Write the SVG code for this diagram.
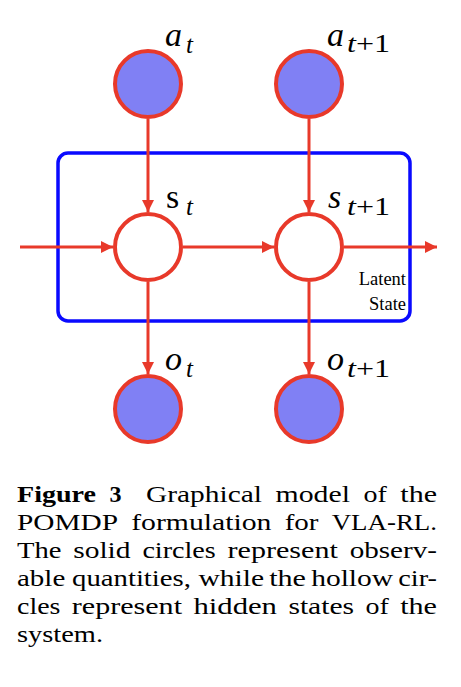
<svg xmlns="http://www.w3.org/2000/svg" width="461" height="687" viewBox="0 0 461 687" font-family="'Liberation Serif', 'DejaVu Serif', serif">
<style>
.obs{fill:#8080f4;stroke:#e8392a;stroke-width:4}
.hid{fill:#ffffff;stroke:#e8392a;stroke-width:4}
.edge{stroke:#e8392a;stroke-width:3;fill:none}
text{font-family:'Liberation Serif','DejaVu Serif',serif;fill:#000}
.math{font-style:italic}
.cap{font-size:24px}
</style>
<defs>
<marker id="arr" viewBox="0 0 12 12" refX="12" refY="6" markerWidth="12" markerHeight="12" markerUnits="userSpaceOnUse" orient="auto">
<path d="M0,0 L12,6 L0,12 Z" fill="#e8392a"/>
</marker>
</defs>
<rect fill="#ffffff" width="461" height="687"/>
<g id="latent-state">
<rect x="58" y="153" width="352" height="168" rx="10" fill="none" stroke="#0a0aff" stroke-width="3.5"/>
<text font-size="18.5" text-anchor="end" x="406" y="285">Latent</text>
<text font-size="18.5" text-anchor="end" x="406" y="310">State</text>
</g>
<g id="connectors">
<line class="edge" x1="20" y1="247" x2="113" y2="247" marker-end="url(#arr)"/>
<line class="edge" x1="183" y1="247" x2="274" y2="247" marker-end="url(#arr)"/>
<line class="edge" x1="344" y1="247" x2="437" y2="247" marker-end="url(#arr)"/>
<line class="edge" x1="148" y1="119" x2="148" y2="212" marker-end="url(#arr)"/>
<line class="edge" x1="309" y1="119" x2="309" y2="212" marker-end="url(#arr)"/>
<line class="edge" x1="148" y1="282" x2="148" y2="374" marker-end="url(#arr)"/>
<line class="edge" x1="309" y1="282" x2="309" y2="374" marker-end="url(#arr)"/>
</g>
<g id="a_t">
<circle class="obs" cx="148" cy="84" r="33"/>
<text class="math" font-size="34" x="165" y="46">a</text>
<text class="math" font-size="25" x="186" y="53">t</text>
</g>
<g id="a_t1">
<circle class="obs" cx="309" cy="84" r="33"/>
<text class="math" font-size="34" x="327" y="46">a</text>
<text class="math" font-size="25" x="347" y="52" textLength="43" lengthAdjust="spacingAndGlyphs">t<tspan font-style="normal">+1</tspan></text>
</g>
<g id="s_t">
<circle class="hid" cx="148" cy="247" r="33"/>
<text font-size="34" x="166" y="208">s</text>
<text class="math" font-size="25" x="186" y="215">t</text>
</g>
<g id="s_t1">
<circle class="hid" cx="309" cy="247" r="33"/>
<text class="math" font-size="34" x="328" y="208">s</text>
<text class="math" font-size="25" x="347" y="215" textLength="43" lengthAdjust="spacingAndGlyphs">t<tspan font-style="normal">+1</tspan></text>
</g>
<g id="o_t">
<circle class="obs" cx="148" cy="409" r="33"/>
<text class="math" font-size="34" x="165" y="370">o</text>
<text class="math" font-size="25" x="186" y="377">t</text>
</g>
<g id="o_t1">
<circle class="obs" cx="309" cy="409" r="33"/>
<text class="math" font-size="34" x="327" y="370">o</text>
<text class="math" font-size="25" x="347" y="377" textLength="43" lengthAdjust="spacingAndGlyphs">t<tspan font-style="normal">+1</tspan></text>
</g>
<g id="caption">
<text class="cap" font-weight="bold" x="17" y="502" textLength="79" lengthAdjust="spacingAndGlyphs">Figure</text>
<text class="cap" font-weight="bold" x="109.5" y="502">3</text>
<text class="cap" x="146" y="502" textLength="116" lengthAdjust="spacingAndGlyphs">Graphical</text>
<text class="cap" x="275.5" y="502" textLength="74.5" lengthAdjust="spacingAndGlyphs">model</text>
<text class="cap" x="363.5" y="502" textLength="23.3" lengthAdjust="spacingAndGlyphs">of</text>
<text class="cap" x="400.3" y="502" textLength="36.7" lengthAdjust="spacingAndGlyphs">the</text>
<text class="cap" x="17" y="530" textLength="101" lengthAdjust="spacingAndGlyphs">POMDP</text>
<text class="cap" x="131.2" y="530" textLength="140.3" lengthAdjust="spacingAndGlyphs">formulation</text>
<text class="cap" x="284.7" y="530" textLength="33.8" lengthAdjust="spacingAndGlyphs">for</text>
<text class="cap" x="331.7" y="530" textLength="105.3" lengthAdjust="spacingAndGlyphs">VLA-RL.</text>
<text class="cap" x="17" y="558" textLength="44.4" lengthAdjust="spacingAndGlyphs">The</text>
<text class="cap" x="73.2" y="558" textLength="57.3" lengthAdjust="spacingAndGlyphs">solid</text>
<text class="cap" x="142.4" y="558" textLength="73.4" lengthAdjust="spacingAndGlyphs">circles</text>
<text class="cap" x="227.6" y="558" textLength="110.2" lengthAdjust="spacingAndGlyphs">represent</text>
<text class="cap" x="349.7" y="558" textLength="87.3" lengthAdjust="spacingAndGlyphs">observ-</text>
<text class="cap" x="17" y="586" textLength="48.3" lengthAdjust="spacingAndGlyphs">able</text>
<text class="cap" x="72" y="586" textLength="119" lengthAdjust="spacingAndGlyphs">quantities,</text>
<text class="cap" x="198.4" y="586" textLength="65.6" lengthAdjust="spacingAndGlyphs">while</text>
<text class="cap" x="269.2" y="586" textLength="36.8" lengthAdjust="spacingAndGlyphs">the</text>
<text class="cap" x="311.2" y="586" textLength="81.9" lengthAdjust="spacingAndGlyphs">hollow</text>
<text class="cap" x="398.3" y="586" textLength="38.7" lengthAdjust="spacingAndGlyphs">cir-</text>
<text class="cap" x="17" y="614" textLength="43.4" lengthAdjust="spacingAndGlyphs">cles</text>
<text class="cap" x="71.8" y="614" textLength="110.2" lengthAdjust="spacingAndGlyphs">represent</text>
<text class="cap" x="193.4" y="614" textLength="83.6" lengthAdjust="spacingAndGlyphs">hidden</text>
<text class="cap" x="288.4" y="614" textLength="65.7" lengthAdjust="spacingAndGlyphs">states</text>
<text class="cap" x="365.5" y="614" textLength="23.3" lengthAdjust="spacingAndGlyphs">of</text>
<text class="cap" x="400.2" y="614" textLength="36.8" lengthAdjust="spacingAndGlyphs">the</text>
<text class="cap" x="17" y="642" textLength="86" lengthAdjust="spacingAndGlyphs">system.</text>
</g>
</svg>
